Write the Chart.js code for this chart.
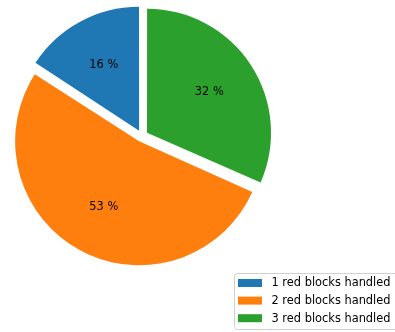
<!DOCTYPE html>
<html>
<head>
<meta charset="utf-8">
<script src="https://cdn.jsdelivr.net/npm/chart.js@4/dist/chart.umd.min.js"></script>
<style>
    html, body { margin: 0; padding: 0; background: #fff; }
    #box { width: 395px; height: 332px; }
</style>
</head>
<body>
<div id="box"><canvas id="pie"></canvas></div>
<script>
    const categories = ['1 red blocks handled', '2 red blocks handled', '3 red blocks handled'];
    const counts = [3, 10, 6];
    const colors = ['#1f77b4', '#ff7f0e', '#2ca02c'];

    const total = counts.reduce((a, b) => a + b, 0);

    // matplotlib draws counter-clockwise, Chart.js clockwise -> feed reversed
    const revLabels = categories.slice().reverse();
    const revCounts = counts.slice().reverse();
    const revColors = colors.slice().reverse();

    const FONT = '11.4px "DejaVu Sans"';

    // Chart.js grows an offset arc's radius by offset/4 * (1 - sin(circ)),
    // undo that so every wedge keeps the same radius like matplotlib explode
    const evenRadius = {
        id: 'evenRadius',
        beforeDatasetsDraw(chart) {
            const meta = chart.getDatasetMeta(0);
            const R = meta.controller.outerRadius;
            meta.data.forEach(arc => {
                const shift = (arc.options.offset || 0) / 4;
                const fix = 1 - Math.sin(Math.min(Math.PI, arc.circumference || 0));
                arc.outerRadius = R - shift * fix;
            });
        }
    };

    const pctLabels = {
        id: 'pctLabels',
        afterDatasetsDraw(chart) {
            const ctx = chart.ctx;
            const meta = chart.getDatasetMeta(0);
            const R = meta.controller.outerRadius;
            ctx.save();
            ctx.font = FONT;
            ctx.fillStyle = '#000';
            ctx.textAlign = 'center';
            ctx.textBaseline = 'middle';
            meta.data.forEach((arc, i) => {
                const mid = (arc.startAngle + arc.endAngle) / 2;
                const shift = (arc.options.offset || 0) / 4;
                const d = R * 0.6 + shift;
                const pct = Math.round(revCounts[i] / total * 100);
                ctx.fillText(pct + ' %', arc.x + Math.cos(mid) * d, arc.y + Math.sin(mid) * d);
            });
            ctx.restore();
        }
    };

    const boxLegend = {
        id: 'boxLegend',
        afterDraw(chart) {
            const ctx = chart.ctx;
            ctx.save();
            const x0 = 234.5, y0 = 273.5, w = 170, h = 56;
            ctx.beginPath();
            ctx.roundRect(x0, y0, w, h, 3);
            ctx.fillStyle = 'rgba(255,255,255,0.8)';
            ctx.fill();
            ctx.strokeStyle = '#d0d0d0';
            ctx.lineWidth = 1;
            ctx.stroke();
            ctx.font = FONT;
            ctx.textBaseline = 'middle';
            categories.forEach((c, i) => {
                const yc = 283 + i * 17.6;
                ctx.fillStyle = colors[i];
                ctx.fillRect(238, yc - 4, 24, 8);
                ctx.fillStyle = '#000';
                ctx.fillText(c, 271.5, yc + 0.5);
            });
            ctx.restore();
        }
    };

    new Chart(
        document.getElementById('pie'),
        {
            type: 'pie',
            data: {
                labels: revLabels,
                datasets: [
                    {
                        data: revCounts,
                        backgroundColor: revColors,
                        borderWidth: 0,
                        offset: 24,
                        hoverOffset: 24,
                        clip: false
                    }
                ]
            },
            options: {
                responsive: true,
                maintainAspectRatio: false,
                animation: false,
                radius: 124,
                layout: {
                    padding: { left: 0, top: 0, right: 111, bottom: 60 }
                },
                plugins: {
                    legend: { display: false },
                    tooltip: { enabled: false }
                }
            },
            plugins: [evenRadius, pctLabels, boxLegend]
        }
    );
</script>
</body>
</html>
